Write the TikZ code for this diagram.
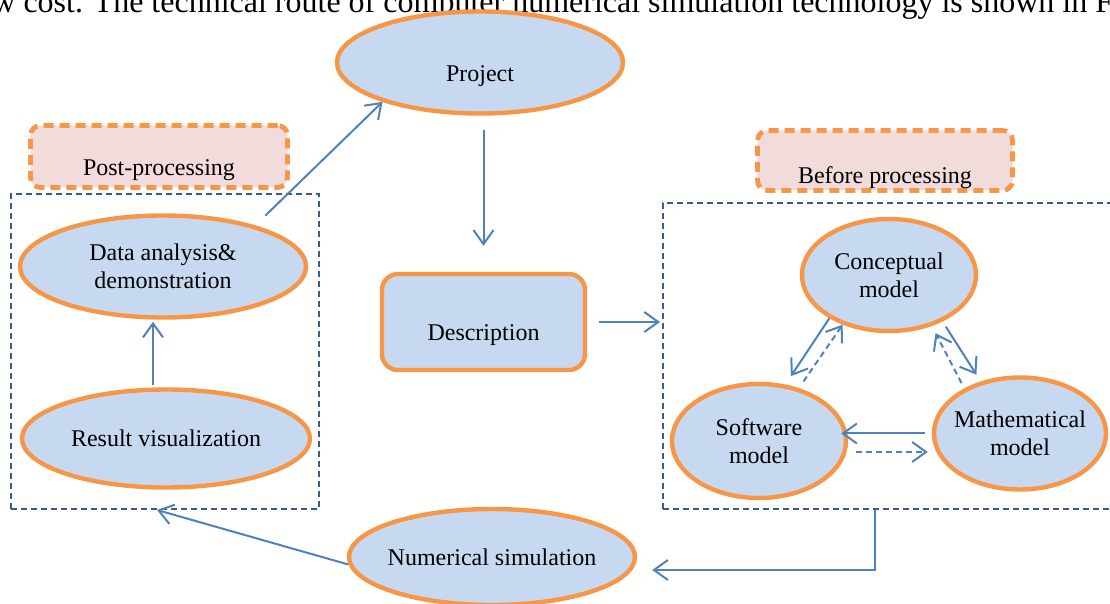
\documentclass[tikz,border=0pt]{standalone}
\usepackage{fontspec}
\setmainfont{Liberation Serif}
\usetikzlibrary{shapes.geometric,arrows.meta}

\definecolor{edgeorange}{RGB}{247,150,70}
\definecolor{ovalfill}{RGB}{198,217,241}
\definecolor{tagfill}{RGB}{242,220,219}
\definecolor{linkblue}{RGB}{79,129,189}
\definecolor{frameblue}{RGB}{56,93,138}

\begin{document}
\begin{tikzpicture}[x=0.5pt,y=-0.5pt,
        every node/.style={font=\fontsize{12}{14}\selectfont},
        oval/.style={ellipse,draw=edgeorange,fill=ovalfill,line width=2.2pt,inner xsep=-3pt,inner ysep=0pt,align=center},
        descbox/.style={rectangle,rounded corners=8pt,draw=edgeorange,fill=ovalfill,line width=2.2pt},
        tagbox/.style={rectangle,rounded corners=5pt,draw=edgeorange,fill=tagfill,line width=2.4pt,dash pattern=on 5pt off 3pt},
        groupframe/.style={rectangle,draw=frameblue,line width=1pt,dash pattern=on 3pt off 2pt},
        link/.style={draw=linkblue,line width=1pt,-{Straight Barb[length=7pt,width=10pt]}},
        dlink/.style={link,dash pattern=on 3pt off 2pt}]
        \useasboundingbox (0,0) rectangle (1110,604);
        \clip (0,0) rectangle (1110,604);

        % running text above the figure
        \node[font=\fontsize{16}{19}\selectfont,anchor=base west,inner sep=0pt] (intro) at (-8,13) {w cost. The technical route of computer numerical simulation technology is shown in F};

        % group frames and their tags
        \node[groupframe,minimum width=154pt,minimum height=157.5pt] (post) at (165,351.5) {};
        \node[groupframe,minimum width=226pt,minimum height=153pt] (pre) at (889,356) {};
        \node[tagbox,minimum width=128.5pt,minimum height=31pt,label={[yshift=-6.75pt]center:Post-processing}] (ptag) at (159,156.5) {};
        \node[tagbox,minimum width=127.5pt,minimum height=30pt,label={[yshift=-8.5pt]center:Before processing}] (btag) at (885,160.5) {};

        % main steps
        \node[oval,minimum width=143pt,minimum height=51pt,label={[yshift=-7pt]center:Project}] (prj) at (480,62.5) {};
        \node[descbox,minimum width=101.5pt,minimum height=48pt,label={[yshift=-6.5pt]center:Description}] (dsc) at (483.5,322) {};
        \node[oval,minimum width=143pt,minimum height=48pt] (num) at (492,557) {Numerical simulation};

        % post-processing
        \node[oval,minimum width=143pt,minimum height=51pt] (dat) at (163,266.5) {Data analysis\&\\demonstration};
        \node[oval,minimum width=144pt,minimum height=49pt] (res) at (166,438.5) {Result visualization};

        % before processing
        \node[oval,minimum width=87pt,minimum height=56pt] (con) at (889,275) {Conceptual\\model};
        \node[oval,minimum width=87pt,minimum height=57pt] (sof) at (759,441) {Software\\model};
        \node[oval,minimum width=86pt,minimum height=56pt] (mat) at (1020,433.5) {Mathematical\\model};

        \coordinate (turn) at (875,570);

        % flow
        \draw[link,shorten <=7.25pt,shorten >=13pt] (prj.south -| dsc.north) -- (dsc.north);
        \draw[link,shorten <=6pt,shorten >=1pt] (dsc.east) -- (dsc.east -| pre.west);
        \draw[link,shorten >=7.5pt] (pre.south -| turn) -- (turn) -- (turn -| num.east);
        \draw[link] (num.183) -- ([xshift=-4pt]post.south);
        \draw[link,shorten <=1pt,shorten >=1pt] ([xshift=-6.5pt]res.north) -- ([xshift=-5pt]dat.south);
        \draw[link,shorten <=7pt] (dat.24) -- (prj.202);

        % model triangle
        \draw[link,shorten >=5pt] (con.216) -- (sof.65);
        \draw[dlink,shorten <=4pt] (sof.53) -- (con.227);
        \draw[link,shorten <=3pt,shorten >=4pt] (con.319) -- (mat.127);
        \draw[dlink,shorten <=3pt,shorten >=4pt] (mat.141) -- (con.310);
        \draw[link,shorten <=3.5pt,shorten >=-3.5pt] (mat.west) -- (mat.west -| sof.east);
        \draw[dlink,shorten <=4pt,shorten >=2pt] ([yshift=-5.5pt]sof.east) -- ([yshift=-5.5pt]sof.east -| mat.west);
    \end{tikzpicture}
\end{document}
